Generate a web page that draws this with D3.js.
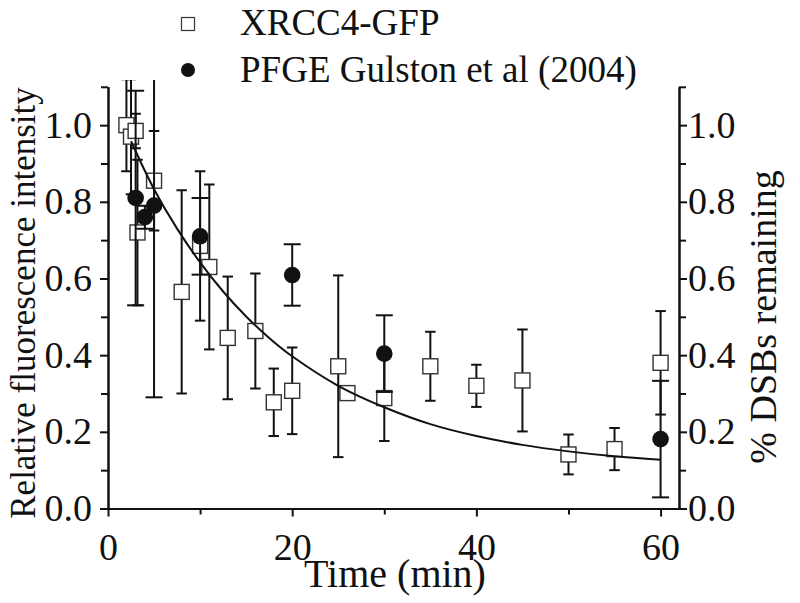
<!DOCTYPE html>
<html>
<head>
<meta charset="utf-8">
<script src="https://cdn.jsdelivr.net/npm/d3@7"></script>
<style>
  html, body { margin: 0; padding: 0; background: #fff; }
</style>
</head>
<body>
<svg id="chart" width="800" height="603"></svg>
<script>
// ---- Data ----
const gfpTime  = [2, 2.5, 3, 3.2, 5, 8, 10, 11, 13, 16, 18, 20, 25, 26, 30, 35, 40, 45, 50, 55, 60];
const gfpValue = [1.0, 0.97, 0.985, 0.72, 0.855, 0.565, 0.685, 0.63, 0.445, 0.463, 0.277, 0.307, 0.371, 0.301, 0.288, 0.371, 0.32, 0.334, 0.141, 0.155, 0.38];
const gfpError = [0.12, 0.15, 0.045, 0.19, 0.13, 0.265, 0.195, 0.215, 0.16, 0.15, 0.088, 0.113, 0.237, 0.015, 0.112, 0.09, 0.055, 0.133, 0.052, 0.055, 0.135];

const pfgeTime  = [3, 4, 5, 10, 20, 30, 60];
const pfgeValue = [0.81, 0.76, 0.79, 0.71, 0.609, 0.404, 0.181];
const pfgeError = [0.28, 0.03, 0.5, 0.1, 0.08, 0.1, 0.152];

// fitted decay curve
const fitTime  = [2.5, 5, 7.5, 10, 12.5, 15, 17.5, 20, 25, 30, 35, 40, 45, 50, 55, 60];
const fitValue = [0.958, 0.833, 0.730, 0.642, 0.566, 0.501, 0.445, 0.397, 0.320, 0.264, 0.220, 0.189, 0.166, 0.149, 0.136, 0.127];

const xMajorTicks = [0, 20, 40, 60];
const xMinorTicks = [10, 30, 50];
const yMajorTicks = [0, 0.2, 0.4, 0.6, 0.8, 1.0];
const yMinorTicks = [0.1, 0.3, 0.5, 0.7, 0.9, 1.1];

const legendLabels = ["XRCC4-GFP", "PFGE Gulston et al (2004)"];
const xTitle = "Time (min)";
const yTitleLeft = "Relative fluorescence intensity";
const yTitleRight = "% DSBs remaining";

// ---- Layout ----
const FONT = "'Liberation Serif', 'Times New Roman', 'DejaVu Serif', serif";
const svg = d3.select("#chart");
const x = d3.scaleLinear().domain([0, 62]).range([108, 679]);
const y = d3.scaleLinear().domain([0, 1.1]).range([508.5, 86.8]);

const tickFont = "38px";

svg.append("defs").append("clipPath").attr("id", "clip")
  .append("rect").attr("x", x(0)).attr("y", 80).attr("width", x(62) - x(0)).attr("height", y(0) - 80 + 2);

function styleAxis(g) {
  g.attr("font-family", FONT);
  g.selectAll("path.domain").attr("stroke", "#111").attr("stroke-width", 2);
  g.selectAll(".tick line").attr("stroke", "#111").attr("stroke-width", 2);
  g.selectAll(".tick text").style("font-size", tickFont).style("font-family", FONT).attr("fill", "#111");
}

const gxMinor = svg.append("g").attr("transform", `translate(0,${y(0)})`)
  .call(d3.axisBottom(x).tickValues(xMinorTicks).tickSize(6).tickSizeOuter(0).tickFormat(""));
styleAxis(gxMinor);
const gx = svg.append("g").attr("transform", `translate(0,${y(0)})`)
  .call(d3.axisBottom(x).tickValues(xMajorTicks).tickSize(8).tickSizeOuter(0).tickPadding(17).tickFormat(d3.format("d")));
styleAxis(gx);

const gyMinor = svg.append("g").attr("transform", `translate(${x(0)},0)`)
  .call(d3.axisLeft(y).tickValues(yMinorTicks).tickSize(7).tickSizeOuter(0).tickFormat(""));
styleAxis(gyMinor);
const gy = svg.append("g").attr("transform", `translate(${x(0)},0)`)
  .call(d3.axisLeft(y).tickValues(yMajorTicks).tickSize(8).tickSizeOuter(0).tickPadding(8).tickFormat(d3.format(".1f")));
styleAxis(gy);

const gyrMinor = svg.append("g").attr("transform", `translate(${x(62)},0)`)
  .call(d3.axisRight(y).tickValues(yMinorTicks).tickSize(7).tickSizeOuter(0).tickFormat(""));
styleAxis(gyrMinor);
const gyr = svg.append("g").attr("transform", `translate(${x(62)},0)`)
  .call(d3.axisRight(y).tickValues(yMajorTicks).tickSize(8).tickSizeOuter(0).tickPadding(1).tickFormat(d3.format(".1f")));
styleAxis(gyr);

function label(sel) { return sel.style("font-family", FONT).attr("fill", "#111"); }

label(svg.append("text")).attr("x", 395).attr("y", 587).attr("text-anchor", "middle")
  .style("font-size", "40px").text(xTitle);
label(svg.append("text")).attr("transform", "translate(35,303) rotate(-90)").attr("text-anchor", "middle")
  .style("font-size", "35px").text(yTitleLeft);
label(svg.append("text")).attr("transform", "translate(776,317) rotate(-90)").attr("text-anchor", "middle")
  .style("font-size", "38px").text(yTitleRight);

const plot = svg.append("g").attr("clip-path", "url(#clip)");

const gfp = gfpTime.map((t, i) => ({ t, v: gfpValue[i], e: gfpError[i] }));
const pfge = pfgeTime.map((t, i) => ({ t, v: pfgeValue[i], e: pfgeError[i] }));
const fit = fitTime.map((t, i) => ({ t, v: fitValue[i] }));

function errorBars(g, data, capW) {
  const eb = g.selectAll(null).data(data).enter().append("g")
    .attr("stroke", "#111").attr("stroke-width", 2).attr("fill", "none");
  eb.append("line").attr("x1", d => x(d.t)).attr("x2", d => x(d.t))
    .attr("y1", d => y(d.v + d.e)).attr("y2", d => y(d.v - d.e));
  eb.append("line").attr("x1", d => x(d.t) - capW / 2).attr("x2", d => x(d.t) + capW / 2)
    .attr("y1", d => y(d.v + d.e)).attr("y2", d => y(d.v + d.e));
  eb.append("line").attr("x1", d => x(d.t) - capW / 2).attr("x2", d => x(d.t) + capW / 2)
    .attr("y1", d => y(d.v - d.e)).attr("y2", d => y(d.v - d.e));
}

errorBars(plot, gfp, 10.5);

const sq = 15;
plot.selectAll("rect.gfp").data(gfp).enter().append("rect").attr("class", "gfp")
  .attr("x", d => x(d.t) - sq / 2).attr("y", d => y(d.v) - sq / 2)
  .attr("width", sq).attr("height", sq)
  .attr("fill", "#fff").attr("stroke", "#333").attr("stroke-width", 1.4);

plot.append("path").datum(fit)
  .attr("fill", "none").attr("stroke", "#111").attr("stroke-width", 2)
  .attr("d", d3.line().x(d => x(d.t)).y(d => y(d.v)).curve(d3.curveCatmullRom));

errorBars(plot, pfge, 17);

plot.selectAll("circle.pfge").data(pfge).enter().append("circle").attr("class", "pfge")
  .attr("cx", d => x(d.t)).attr("cy", d => y(d.v)).attr("r", 8.3).attr("fill", "#111");

const leg = svg.append("g");
leg.append("rect").attr("x", 181.5).attr("y", 17.5).attr("width", 13).attr("height", 13)
  .attr("fill", "#fff").attr("stroke", "#333").attr("stroke-width", 1.2);
label(leg.append("text")).attr("x", 240).attr("y", 35).style("font-size", "37px").text(legendLabels[0]);
leg.append("circle").attr("cx", 188).attr("cy", 70).attr("r", 7).attr("fill", "#111");
label(leg.append("text")).attr("x", 240).attr("y", 81.7).style("font-size", "37px").text(legendLabels[1]);
</script>
</body>
</html>
